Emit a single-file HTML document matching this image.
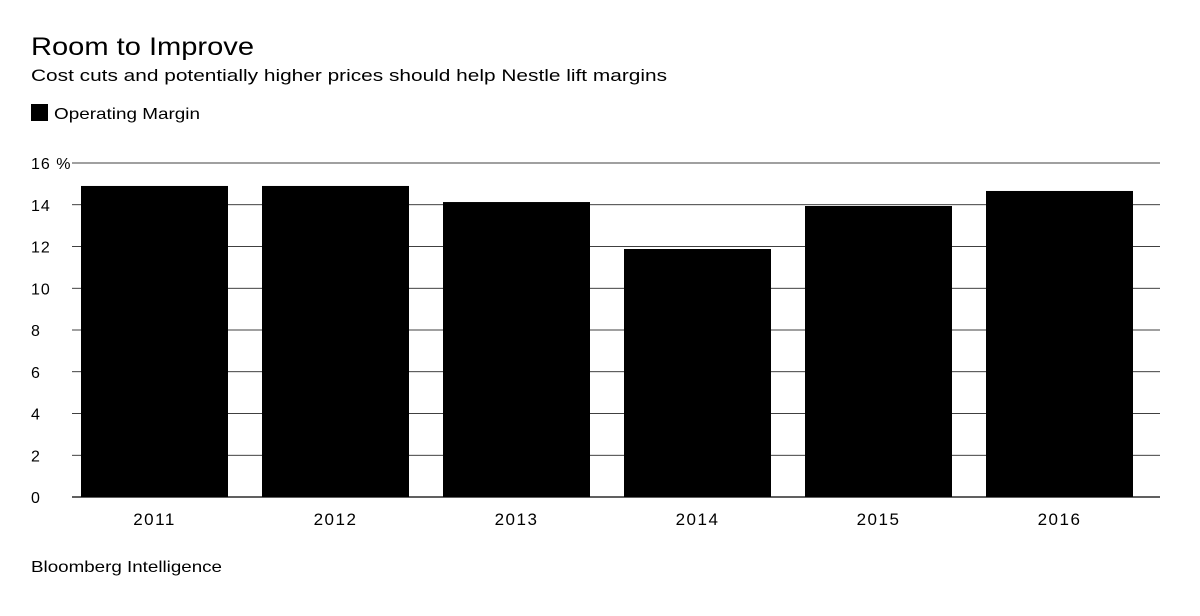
<!DOCTYPE html>
<html><head><meta charset="utf-8"><style>
body{margin:0;background:#fff;font-family:"Liberation Sans",sans-serif;}
</style></head><body>
<svg width="1200" height="611" xmlns="http://www.w3.org/2000/svg">
<rect width="1200" height="611" fill="#fff"/>
<text x="31" y="55" font-size="25" textLength="223" lengthAdjust="spacingAndGlyphs" fill="#000">Room to Improve</text>
<text x="31" y="81" font-size="17" textLength="636" lengthAdjust="spacingAndGlyphs" fill="#000">Cost cuts and potentially higher prices should help Nestle lift margins</text>
<rect x="31" y="104" width="17" height="17" fill="#000"/>
<text x="54" y="119" font-size="16" textLength="146" lengthAdjust="spacingAndGlyphs" fill="#000">Operating Margin</text>
<g id="grid"></g><g id="bars"></g><g id="xlabels"></g>
<text x="31" y="572" font-size="16" textLength="191" lengthAdjust="spacingAndGlyphs" fill="#000">Bloomberg Intelligence</text>
</svg>
<script>
const categories=["2011","2012","2013","2014","2015","2016"];
const values=[14.9,14.9,14.13,11.88,13.94,14.66];
const ticks=[0,2,4,6,8,10,12,14,16];
const y0=497,y1=163,vmax=16;
const y=v=>y0-(v/vmax)*(y0-y1);
const bandStart=64,band=181,barW=147;
const x=i=>bandStart+i*band+(band-barW)/2;
const ns="http://www.w3.org/2000/svg";
const g=document.getElementById('grid'),b=document.getElementById('bars'),xl=document.getElementById('xlabels');
ticks.forEach(t=>{
 const l=document.createElementNS(ns,'line');
 l.setAttribute('x1',72);l.setAttribute('x2',1160);l.setAttribute('y1',y(t));l.setAttribute('y2',y(t));
 l.setAttribute('stroke','#000');l.setAttribute('stroke-width',t===0?1.2:0.8);
 
 
 g.appendChild(l);
 const tx=document.createElementNS(ns,'text');
 tx.setAttribute('x',31);tx.setAttribute('y',y(t)+6);tx.setAttribute('font-size',16);tx.setAttribute('letter-spacing','1');
 tx.textContent=t===16?'16 %':String(t);
 
 
 g.appendChild(tx);
});
categories.forEach((c,i)=>{
 const r=document.createElementNS(ns,'rect');
 r.setAttribute('x',x(i));r.setAttribute('width',barW);r.setAttribute('y',y(values[i]));r.setAttribute('height',y0-y(values[i]));r.setAttribute('fill','#000');
 
 
 b.appendChild(r);
 const t=document.createElementNS(ns,'text');
 t.setAttribute('x',x(i)+barW/2);t.setAttribute('y',525);t.setAttribute('font-size',17);t.setAttribute('text-anchor','middle');t.setAttribute('letter-spacing','1.5');
 t.textContent=c;
 
 
 xl.appendChild(t);
});
</script>
</body></html>
